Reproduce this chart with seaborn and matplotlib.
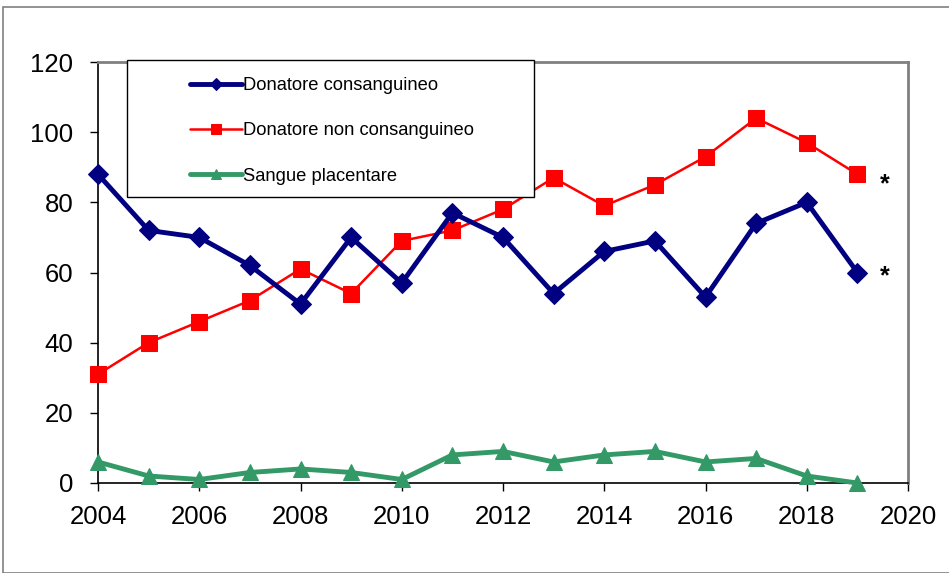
import matplotlib
matplotlib.use("Agg")
import matplotlib.pyplot as plt
import seaborn as sns
import pandas as pd
from matplotlib.patches import Rectangle

years = [2004, 2005, 2006, 2007, 2008, 2009, 2010, 2011, 2012, 2013, 2014, 2015, 2016, 2017, 2018, 2019]
consanguineo = [88, 72, 70, 62, 51, 70, 57, 77, 70, 54, 66, 69, 53, 74, 80, 60]
non_consanguineo = [31, 40, 46, 52, 61, 54, 69, 72, 78, 87, 79, 85, 93, 104, 97, 88]
placentare = [6, 2, 1, 3, 4, 3, 1, 8, 9, 6, 8, 9, 6, 7, 2, 0]
labels = ["Donatore consanguineo", "Donatore non consanguineo", "Sangue placentare"]
xticks = [2004, 2006, 2008, 2010, 2012, 2014, 2016, 2018, 2020]
yticks = [0, 20, 40, 60, 80, 100, 120]

sns.set_style("white")
plt.rcParams['font.family'] = ['Liberation Sans', 'DejaVu Sans']
plt.rcParams['text.color'] = 'black'

fig = plt.figure(figsize=(9.49, 5.73), dpi=100)
ax = fig.add_axes([98/949, 1-483/573, (908-98)/949, (483-62)/573])

df = pd.DataFrame({"year": years, "c": consanguineo, "n": non_consanguineo, "p": placentare})

sns.lineplot(data=df, x="year", y="c", ax=ax, color="#000080", linewidth=3.5,
             marker="D", markersize=10, markeredgecolor="#000080", label=labels[0], clip_on=False, zorder=4)
sns.lineplot(data=df, x="year", y="n", ax=ax, color="#FF0000", linewidth=1.8,
             marker="s", markersize=11, markeredgecolor="#FF0000", label=labels[1], clip_on=False, zorder=3)
sns.lineplot(data=df, x="year", y="p", ax=ax, color="#339966", linewidth=3.5,
             marker="^", markersize=11, markeredgecolor="#339966", label=labels[2], clip_on=False, zorder=5)

ax.set_xlim(2004, 2020)
ax.set_ylim(0, 120)
ax.set_xticks(xticks)
ax.set_yticks(yticks)
ax.set_xlabel("")
ax.set_ylabel("")
ax.tick_params(axis="both", labelsize=18.5, length=5.8, width=1, color="black", labelcolor="black",
               direction="out", bottom=True, left=True)
ax.tick_params(axis="x", pad=10)
ax.tick_params(axis="y", pad=12)
for s in ["left", "bottom"]:
    ax.spines[s].set_color("black")
    ax.spines[s].set_linewidth(1.2)
for s in ["top", "right"]:
    ax.spines[s].set_color("#808080")
    ax.spines[s].set_linewidth(2)

# asterisks
ax.text(2019.55, non_consanguineo[-1] - 3, "*", fontsize=18, fontweight="bold", ha="center", va="center")
ax.text(2019.55, consanguineo[-1] - 1, "*", fontsize=18, fontweight="bold", ha="center", va="center")

# legend frame
x0 = (127-98)/810; x1 = (534-98)/810
y0 = (483-197)/421; y1 = (483-60)/421
ax.add_patch(Rectangle((x0, y0), x1-x0, y1-y0, transform=ax.transAxes, facecolor="white",
                       edgecolor="black", linewidth=1, clip_on=False, zorder=6))
leg = ax.legend(loc="upper left", bbox_to_anchor=((190-98)/810, (483-77)/421), frameon=False,
                fontsize=13.2, handlelength=2.85, handletextpad=0.05, labelspacing=1.55,
                borderpad=0, borderaxespad=0, markerscale=0.6)
leg.set_zorder(7)

# outer figure border
fig.patches.append(Rectangle((3/949, 0), 1, 1-7/573, transform=fig.transFigure, facecolor="none",
                             edgecolor="#808080", linewidth=1.2))

fig.savefig("out.png", dpi=100)
